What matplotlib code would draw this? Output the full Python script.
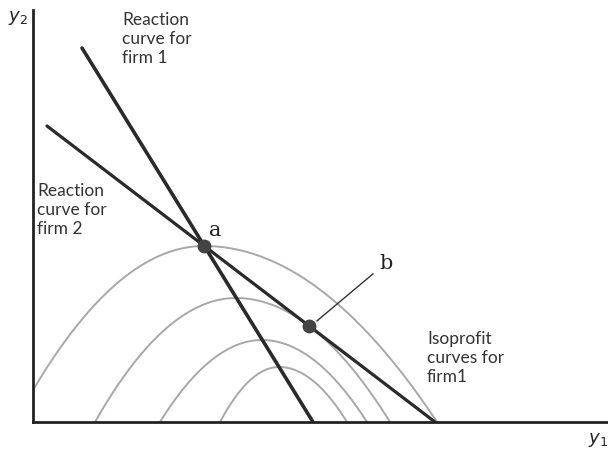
import numpy as np
import matplotlib
matplotlib.use("Agg")
import matplotlib.pyplot as plt

# ---- data (abstract units, origin at axes corner) ----
firm1_x = [49, 280]      # reaction curve for firm 1 (end points)
firm1_y = [374, 0]
firm2_x = [14, 402]      # reaction curve for firm 2 (end points)
firm2_y = [296, 0]

# isoprofit curves for firm 1: peak x, peak y, left foot x, right foot x
iso_peak_x = [171, 203, 229, 246]
iso_peak_y = [176, 124, 82, 55]
iso_left = [-18, 62, 127, 187]
iso_right = [404, 357, 334, 314]

b_x = 276

W, H = 608, 451
fig = plt.figure(figsize=(W / 100, H / 100), dpi=100)
ax = fig.add_axes([33 / W, (H - 422) / H, (W - 33) / W, (422 - 10) / H])
ax.set_xlim(0, 575)
ax.set_ylim(0, 412)
for s in ["top", "right"]:
    ax.spines[s].set_visible(False)
for s in ["left", "bottom"]:
    ax.spines[s].set_linewidth(2.0)
    ax.spines[s].set_color("#222222")
ax.set_xticks([])
ax.set_yticks([])

# isoprofit arcs
for xp, yp, xl, xr in zip(iso_peak_x, iso_peak_y, iso_left, iso_right):
    xs_l = np.linspace(max(xl, 0), xp, 200)
    ys_l = yp * (1 - ((xs_l - xp) / (xp - xl)) ** 2)
    xs_r = np.linspace(xp, xr, 200)
    ys_r = yp * (1 - ((xs_r - xp) / (xr - xp)) ** 2)
    ax.plot(np.r_[xs_l, xs_r], np.r_[ys_l, ys_r], color="#a8a8a8", lw=1.4,
            solid_capstyle="round", clip_on=False, zorder=1)

# reaction curves
ax.plot(firm1_x, firm1_y, color="#2a2a2a", lw=2.6, solid_capstyle="round", zorder=3)
ax.plot(firm2_x, firm2_y, color="#2a2a2a", lw=2.3, solid_capstyle="round", zorder=3)

# intersection a
m1 = (firm1_y[1] - firm1_y[0]) / (firm1_x[1] - firm1_x[0])
m2 = (firm2_y[1] - firm2_y[0]) / (firm2_x[1] - firm2_x[0])
c1 = firm1_y[0] - m1 * firm1_x[0]
c2 = firm2_y[0] - m2 * firm2_x[0]
a_x = (c2 - c1) / (m1 - m2)
a_y = m1 * a_x + c1
b_y = m2 * b_x + c2

ax.plot([a_x, b_x], [a_y, b_y], "o", color="#444444", ms=9, zorder=4)

# labels
fs = 12.5
fam = ["Lato", "DejaVu Sans"]
ax.text(a_x + 5, a_y + 10, "a", fontsize=15, family="DejaVu Serif", color="#222")
ax.text(b_x + 70, b_y + 57, "b", fontsize=15, family="DejaVu Serif", color="#222")
ax.plot([b_x + 8, b_x + 64], [b_y + 5, b_y + 52], color="#333", lw=1.0)

ax.text(89, 410, "Reaction\ncurve for\nfirm 1", fontsize=fs, family=fam,
        va="top", ha="left", linespacing=1.22, color="#333")
ax.text(4, 239, "Reaction\ncurve for\nfirm 2", fontsize=fs, family=fam,
        va="top", ha="left", linespacing=1.22, color="#333")
ax.text(394, 91, "Isoprofit\ncurves for\nfirm1", fontsize=fs, family=fam,
        va="top", ha="left", linespacing=1.22, color="#333")

fig.text(8 / W, 1 - 18 / H, "$y_2$", fontsize=13, color="#222", va="center")
fig.text(588 / W, 1 - 440 / H, "$y_1$", fontsize=13, color="#222", va="center")

fig.savefig("out.png", dpi=100, facecolor="white")
